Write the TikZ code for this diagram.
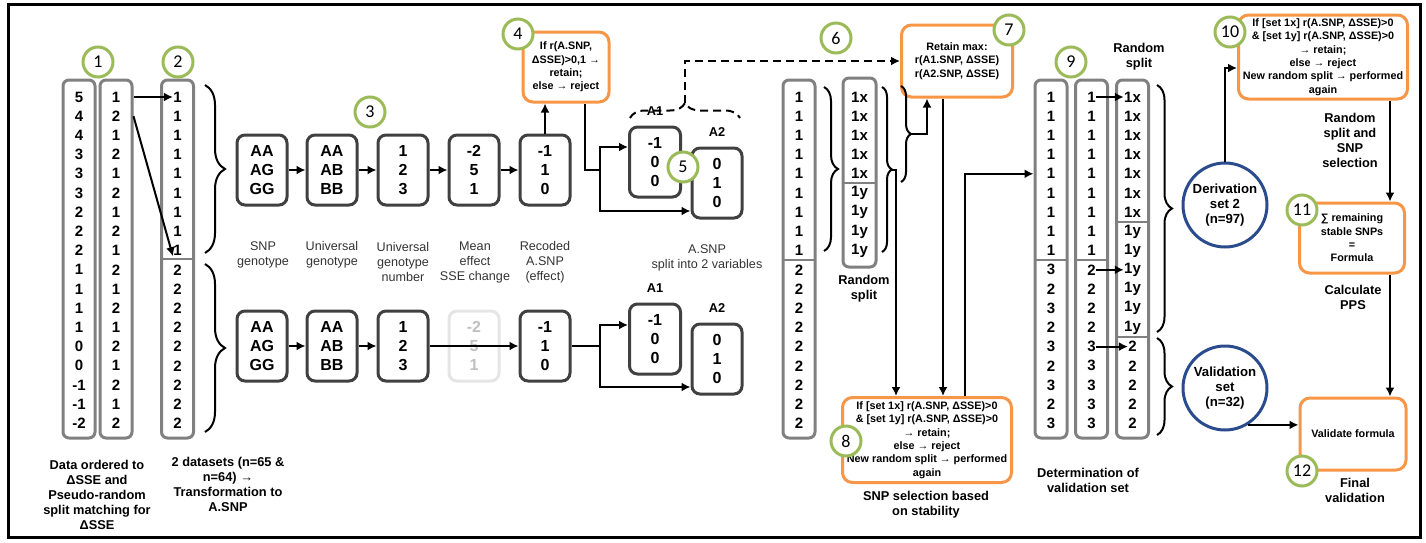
\documentclass[tikz,border=0pt]{standalone}
\usepackage{fontspec}
\setmainfont{Liberation Sans}
\newfontfamily\circfont{Carlito}
\usetikzlibrary{arrows.meta,decorations.pathreplacing,positioning}
\definecolor{stepgray}{HTML}{404040}
\definecolor{colgray}{HTML}{808080}
\definecolor{selorange}{HTML}{F79646}
\definecolor{numgreen}{HTML}{9BBB59}
\definecolor{setblue}{HTML}{2B4C8C}
\tikzset{
  colbox/.style={draw=colgray, line width=1.5pt, rounded corners=3pt, minimum width=16pt, inner sep=0pt},
  cell/.style={font=\bfseries\fontsize{7.5}{9}\selectfont, inner sep=0pt},
  stepbox/.style={draw=stepgray, line width=1.5pt, rounded corners=4pt, minimum width=25pt, minimum height=35pt, align=center, font=\bfseries\fontsize{8}{9.5}\selectfont, inner sep=0pt},
  selbox/.style={draw=selorange, line width=1.5pt, rounded corners=5pt, align=center, font=\bfseries\fontsize{5.4}{6.7}\selectfont, inner sep=0pt},
  numcirc/.style={circle, draw=numgreen, fill=white, line width=1.5pt, minimum size=15pt, inner sep=0pt, font=\circfont\fontsize{9}{9}\selectfont},
  setcirc/.style={circle, draw=setblue, line width=1.5pt, minimum size=42pt, inner sep=0pt, align=center, font=\bfseries\fontsize{6.6}{7.5}\selectfont},
  lab/.style={align=center, text=black!80, font=\fontsize{6.3}{7.5}\selectfont},
  blab/.style={align=center, font=\bfseries\fontsize{6.4}{7.5}\selectfont},
  divline/.style={draw=colgray, line width=1pt},
  conn/.style={line width=1pt},
  arr/.style={line width=1pt, -{Latex[length=4.5pt,width=4.5pt]}},
  curly/.style={line width=1pt, decorate, decoration={brace, amplitude=#1}},
  curly/.default=10pt,
}
\begin{document}
\begin{tikzpicture}[x=0.5pt,y=-0.5pt]
  \useasboundingbox (0,0) rectangle (1426,542);
  \draw[line width=1.5pt] (8,4) rectangle (1420,537);
  % Step 1 and 2: ordered data and the two datasets.
    \node[colbox, minimum height=179pt] (col1) at (79,259) {};
    \node[colbox, minimum height=179pt] (col2) at (116,259) {};
    \node[colbox, minimum height=179pt] (col3) at (177.5,259) {};
    \foreach \v [count=\i from 0] in {5,4,4,3,3,3,2,2,2,1,1,1,1,0,0,-1,-1,-2}
      \node[cell] (o\i) at (79,{97+19.2*\i}) {\v};
    \foreach \v [count=\i from 0] in {1,2,1,2,1,2,1,2,1,2,1,2,1,2,1,2,1,2}
      \node[cell] (p\i) at (116,{97+19.2*\i}) {\v};
    \foreach \v [count=\i from 0] in {1,1,1,1,1,1,1,1,1,2,2,2,2,2,2,2,2,2}
      \node[cell] (s\i) at (177.5,{97+19.2*\i}) {\v};
    \draw[divline] (162,259) -- (193,259);
    \draw[arr] (col2.east |- p0) -- (s0.west);
    \draw[arr] (col2.east |- p1) -- (s8.south west);
    \draw[curly] (205,85) -- (205,253);
    \draw[curly] (205,264) -- (205,432);
    \node[numcirc] (n1) at (98,62) {1};
    \node[numcirc] (n2) at (178,62) {2};
  % Step 3: transformation, upper dataset.
    \node[stepbox] (g1) at (262,170) {AA\\AG\\GG};
    \node[stepbox] (g2) at (332,170) {AA\\AB\\BB};
    \node[stepbox] (g3) at (403,170) {1\\2\\3};
    \node[stepbox] (g4) at (474,170) {-2\\5\\1};
    \node[stepbox] (g5) at (545,170) {-1\\1\\0};
    \foreach \a/\b in {g1/g2,g2/g3,g3/g4,g4/g5}
      \draw[arr] (\a) -- (\b);
    \node[numcirc] (n3) at (370,112) {3};
  % Step 3: lower dataset, mean effect is faded.
    \node[stepbox] (h1) at (262,346) {AA\\AG\\GG};
    \node[stepbox] (h2) at (332,346) {AA\\AB\\BB};
    \node[stepbox] (h3) at (403,346) {1\\2\\3};
    \node[stepbox, draw=black!10, text=black!25] (h4) at (474,346) {-2\\5\\1};
    \node[stepbox] (h5) at (545,346) {-1\\1\\0};
    \draw[arr] (h1) -- (h2);
    \draw[arr] (h2) -- (h3);
    \draw[arr] (h3) -- (h5);
  % Step 4 and 5: check and split into A1 / A2.
    \node[selbox, minimum width=43pt, minimum height=35pt] (q4) at (566,67) {If r(A.SNP,\\ΔSSE)>0,1 →\\retain;\\else → reject};
    \draw[arr] (g5.north) -- (g5.north |- q4.south);
    \node[stepbox, minimum width=25.5pt] (a1) at (655,162) {-1\\0\\0};
    \node[stepbox] (a2) at (717,183) {0\\1\\0};
    \node[blab, above=1.5pt of a1] (a1l) {A1};
    \node[blab, above=1.5pt of a2] (a2l) {A2};
    \coordinate (j1) at (600,170);
    \draw[conn] ([xshift=9.5pt]q4.south) |- (j1);
    \draw[arr] (j1) |- ([yshift=7.5pt]a1.west);
    \draw[arr] (j1) |- ([yshift=-14pt]a2.west);
    \node[stepbox, minimum width=25.5pt] (b1) at (655,339) {-1\\0\\0};
    \node[stepbox] (b2) at (717,359) {0\\1\\0};
    \node[blab, above=1.5pt of b1] (b1l) {A1};
    \node[blab, above=1.5pt of b2] (b2l) {A2};
    \coordinate (j2) at (600,346);
    \draw[conn] (h5) -- (j2);
    \draw[arr] (j2) |- ([yshift=7pt]b1.west);
    \draw[arr] (j2) |- ([yshift=-14pt]b2.west);
    \node[numcirc] (n4) at (518,34) {4};
    \node[numcirc] (n5) at (683,167) {5};
    \draw[curly=7.5pt, dash pattern=on 4pt off 2.5pt] (630,118) -- (740,118);
    \coordinate (tipA) at (685,103);
  % Step 6, 7, 8: random split and stability.
    \node[colbox, minimum height=179pt] (col6) at (799,259) {};
    \foreach \v [count=\i from 0] in {1,1,1,1,1,1,1,1,1,2,2,2,2,2,2,2,2,2}
      \node[cell] (t\i) at (799,{97+19.2*\i}) {\v};
    \draw[divline] (783,260) -- (815,260);
    \draw[curly=7pt] (824,87) -- (824,251);
    \node[colbox, minimum width=16.5pt, minimum height=94.5pt] (colxy) at (859.5,172.5) {};
    \foreach \v [count=\i from 0] in {1x,1x,1x,1x,1x,1y,1y,1y,1y}
      \node[cell] (x\i) at (859.5,{97+19.2*\i}) {\v};
    \draw[divline] (843,183) -- (876,183);
    \node[selbox, minimum width=55.5pt, minimum height=36pt] (r7) at (957,61) {Retain max:\\r(A1.SNP, ΔSSE)\\r(A2.SNP, ΔSSE)};
    \node[selbox, minimum width=84.5pt, minimum height=42.5pt] (r8) at (927,440) {If [set 1x] r(A.SNP, ΔSSE)>0\\\& [set 1y] r(A.SNP, ΔSSE)>0\\→ retain;\\else → reject\\New random split → performed\\again};
    \draw[arr, dash pattern=on 4pt off 2.5pt] (tipA) |- (r7.west);
    \draw[curly=5pt] (882,87) -- (882,252);
    \coordinate (tipB) at (892,169.5);
    \draw[arr] (tipB) -| ([xshift=-15.5pt]r8.north);
    \draw[curly=5pt] (901,86) -- (901,182);
    \coordinate (tipC) at (911,134);
    \draw[arr] (tipC) -| ([xshift=-15pt]r7.south);
    \draw[arr] ([xshift=-7pt]r7.south) -- ([xshift=-7pt]r7.south |- r8.north);
    \node[numcirc] (n6) at (836,38) {6};
    \node[numcirc] (n7) at (1009,30) {7};
    \node[numcirc] (n8) at (846,441) {8};
  % Step 9: determination of validation set.
    \node[colbox, minimum height=179pt] (colA) at (1051,259) {};
    \node[colbox, minimum height=179pt] (colB) at (1091.5,259) {};
    \node[colbox, minimum height=179pt] (colC) at (1132.5,259) {};
    \foreach \v [count=\i from 0] in {1,1,1,1,1,1,1,1,1,3,2,3,2,3,2,3,2,3}
      \node[cell] (u\i) at (1051,{97+19.2*\i}) {\v};
    \foreach \v [count=\i from 0] in {1,1,1,1,1,1,1,1,1,2,2,2,2,3,3,3,3,3}
      \node[cell] (v\i) at (1091.5,{97+19.2*\i}) {\v};
    \foreach \v [count=\i from 0] in {1x,1x,1x,1x,1x,1x,1x,1y,1y,1y,1y,1y,1y,2,2,2,2,2}
      \node[cell] (w\i) at (1132.5,{97+19.2*\i}) {\v};
    \draw[divline] (1035,260) -- (1067,260);
    \draw[divline] (1075,260) -- (1108,260);
    \draw[divline] (1117,221.8) -- (1148,221.8);
    \draw[divline] (1117,337) -- (1148,337);
    \draw[arr] ([xshift=19pt]r8.north) |- (colA.west |- u4);
    \foreach \k in {0,9,13}
      \draw[arr] (v\k.east) -- (w\k.west);
    \draw[curly=7.5pt] (1157,85) -- (1157,332);
    \draw[curly=7.5pt] (1157,338) -- (1157,435);
    \node[numcirc] (n9) at (1071,62) {9};
  % Step 10, 11, 12: derivation and validation.
    \node[setcirc] (der) at (1225,205) {Derivation\\set 2\\(n=97)};
    \node[setcirc] (val) at (1225,388) {Validation\\set\\(n=32)};
    \node[selbox, minimum width=84.5pt, minimum height=42pt] (r10) at (1323,57) {If [set 1x] r(A.SNP, ΔSSE)>0\\\& [set 1y] r(A.SNP, ΔSSE)>0\\→ retain;\\else → reject\\New random split → performed\\again};
    \node[selbox, minimum width=52.5pt, minimum height=35pt] (r11) at (1352,238) {∑ remaining\\stable SNPs\\=\\Formula};
    \node[selbox, minimum width=53pt, minimum height=36pt] (r12) at (1353,434) {Validate formula};
    \draw[arr] (der.north) |- ([yshift=-5.5pt]r10.west);
    \draw[arr] ([xshift=33.5pt]r10.south) -- ([xshift=33.5pt]r10.south |- r11.north);
    \draw[arr] ([xshift=19pt]r11.south) -- ([xshift=19pt]r11.south |- r12.north);
    \draw[arr] (val.-58) -- (val.-58 -| r12.west);
    \node[numcirc] (n10) at (1230,32) {10};
    \node[numcirc] (n11) at (1302,210) {11};
    \node[numcirc] (n12) at (1302,471) {12};
  % Below nodes are the labels.
    \node[blab] (l1) at (97,495) {Data ordered to\\ΔSSE and\\Pseudo-random\\split matching for\\ΔSSE};
    \node[blab] (l2) at (228,484) {2 datasets (n=65 \&\\n=64) →\\Transformation to\\A.SNP};
    \node[lab] (l3) at (263,254.5) {SNP\\genotype};
    \node[lab] (l4) at (332,254.5) {Universal\\genotype};
    \node[lab] (l5) at (403,262) {Universal\\genotype\\number};
    \node[lab] (l6) at (475,262) {Mean\\effect\\SSE change};
    \node[lab] (l7) at (545,262) {Recoded\\A.SNP\\(effect)};
    \node[lab] (l8) at (707,258) {A.SNP\\split into 2 variables};
    \node[blab] (l9) at (864,289) {Random\\split};
    \node[blab] (l10) at (926,505) {SNP selection based\\on stability};
    \node[blab] (l11) at (1139,57) {Random\\split};
    \node[blab] (l12) at (1088,480) {Determination of\\validation set};
    \node[blab] (l13) at (1350,140) {Random\\split and\\SNP\\selection};
    \node[blab] (l14) at (1353,297) {Calculate\\PPS};
    \node[blab] (l15) at (1355,490) {Final\\validation};
\end{tikzpicture}
\end{document}
